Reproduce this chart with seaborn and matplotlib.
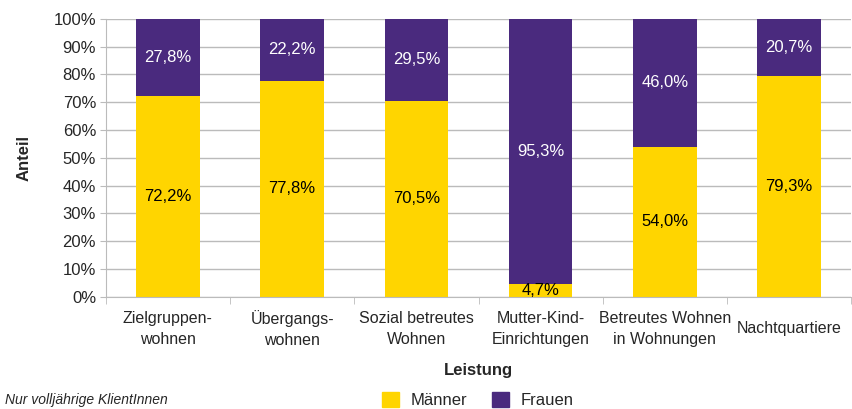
import matplotlib
matplotlib.use("Agg")
import matplotlib.pyplot as plt
from matplotlib.patches import Patch
import seaborn as sns
import pandas as pd

categories = ["Zielgruppen-\nwohnen", "Übergangs-\nwohnen", "Sozial betreutes\nWohnen",
              "Mutter-Kind-\nEinrichtungen", "Betreutes Wohnen\nin Wohnungen", "Nachtquartiere"]
maenner = [72.2, 77.8, 70.5, 4.7, 54.0, 79.3]
frauen = [27.8, 22.2, 29.5, 95.3, 46.0, 20.7]

YELLOW = "#FFD500"
PURPLE = "#4A2A7E"

sns.set_style("white")
plt.rcParams['font.family'] = ['Liberation Sans', 'DejaVu Sans']

df = pd.DataFrame({"Leistung": categories, "Männer": maenner, "Frauen": frauen})

fig = plt.figure(figsize=(8.53, 4.09), dpi=100)
ax = fig.add_axes([0.124, 0.274, 0.874, 0.68])

sns.barplot(data=df, x="Leistung", y="Männer", color=YELLOW, width=0.51,
            saturation=1, ax=ax, linewidth=0)
sns.barplot(data=df, x="Leistung", y="Frauen", color=PURPLE, width=0.51,
            saturation=1, ax=ax, linewidth=0, bottom=df["Männer"])

for i, (m, f) in enumerate(zip(maenner, frauen)):
    ax.text(i, m / 2, f"{m:.1f}%".replace(".", ","), ha="center", va="center",
            fontsize=12, color="black")
    ax.text(i, m + f / 2, f"{f:.1f}%".replace(".", ","), ha="center", va="center",
            fontsize=12, color="white")

ax.set_ylim(0, 100)
ax.set_xlim(-0.5, 5.5)
ax.set_yticks(range(0, 101, 10))
ax.set_yticklabels([f"{v}%" for v in range(0, 101, 10)], fontsize=12)
ax.yaxis.grid(True, color="#BBBBBB", linewidth=1)
ax.set_axisbelow(True)

# category labels drawn by hand so single-line labels sit vertically centred
ax.set_xticklabels([])
ax.tick_params(axis="x", length=0)
for i, lab in enumerate(categories):
    ax.text(i, -11.5, lab, transform=ax.transData, ha="center", va="center",
            fontsize=11.5, linespacing=1.45, multialignment="center")
ax.set_xticks([x + 0.5 for x in range(-1, 6)], minor=True)
ax.tick_params(axis="x", which="minor", length=5, color="#BBBBBB", bottom=True)
ax.tick_params(axis="y", length=4, color="#BBBBBB", left=True, pad=3)

for s in ["top", "right"]:
    ax.spines[s].set_visible(False)
for s in ["left", "bottom"]:
    ax.spines[s].set_color("#BBBBBB")

ax.set_xlabel("")
fig.text(0.561, 0.095, "Leistung", fontsize=12, fontweight="bold", ha="center", va="center")
ax.set_ylabel("Anteil", fontsize=12, fontweight="bold", labelpad=16)

handles = [Patch(color=YELLOW, label="Männer"), Patch(color=PURPLE, label="Frauen")]
fig.legend(handles=handles, loc="center", bbox_to_anchor=(0.56, 0.022), ncol=2,
           frameon=False, fontsize=12, handlelength=1.0, handleheight=1.0,
           columnspacing=1.5, handletextpad=0.7)

fig.text(0.006, 0.022, "Nur volljährige KlientInnen", fontsize=10, style="italic",
         va="center", ha="left")

fig.savefig("out.png", dpi=100)
